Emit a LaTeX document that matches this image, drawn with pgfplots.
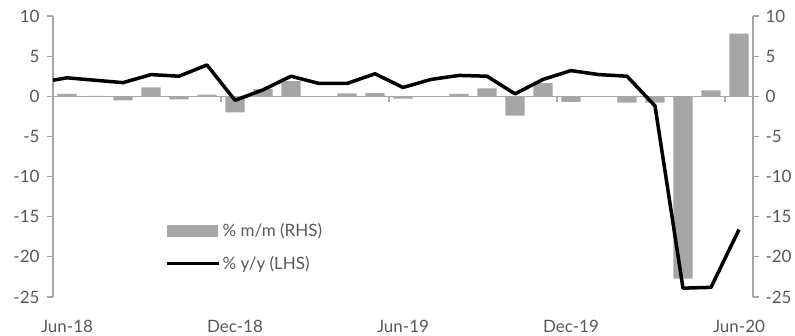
\documentclass[border=0pt]{standalone}
\usepackage{pgfplots}
\pgfplotsset{compat=1.18}
\usepackage{fontspec}
\setmainfont{Lato}
\definecolor{barcol}{HTML}{A6A6A6}
\definecolor{axcol}{HTML}{A6A6A6}
\definecolor{txtcol}{HTML}{595959}
\pgfplotstableread{
x m y
0 0.3 2.3
1 0.05 2.0
2 -0.5 1.7
3 1.1 2.7
4 -0.4 2.5
5 0.2 3.9
6 -2.0 -0.5
7 0.9 0.8
8 1.9 2.5
9 0.0 1.6
10 0.35 1.6
11 0.4 2.8
12 -0.3 1.1
13 0.0 2.1
14 0.3 2.6
15 1.0 2.5
16 -2.4 0.3
17 1.65 2.1
18 -0.7 3.2
19 0.0 2.7
20 -0.8 2.5
21 -0.8 -1.2
22 -22.7 -23.9
23 0.75 -23.8
24 7.8 -16.6
}\data
\begin{document}
\begin{tikzpicture}
\pgfplotsset{
  common/.style={
    at={(53bp,39bp)}, anchor=south west,
    width=700bp, height=281bp, scale only axis,
    xmin=-0.5, xmax=24.5, ymin=-25, ymax=10,
    ytick={-25,-20,...,10},
    tick align=outside, major tick length=6bp,
    every tick label/.append style={font=\fontsize{17bp}{20bp}\selectfont, text=txtcol},
    /pgf/number format/assume math mode=true,
    y axis line style={draw=axcol, line width=1.2bp},
    every y tick/.style={draw=axcol, line width=1.2bp},
    clip=false,
  }
}
\begin{axis}[common,
  axis y line*=right, axis x line=none,
  yticklabel style={xshift=3bp},
]
\addplot[ybar, bar width=0.68, fill=barcol, draw=none] table[x=x,y=m]{\data};
\draw[axcol, line width=1.2bp] (axis cs:-0.5,0) -- (axis cs:24.5,0);
\pgfplotsinvokeforeach{5.5,11.5,17.5,23.5}{
  \draw[axcol, line width=1.2bp] (axis cs:#1,0) -- ([yshift=-6bp]axis cs:#1,0);
}
\end{axis}
\begin{axis}[common,
  axis y line*=left, axis x line*=bottom,
  x axis line style={draw=none},
  xtick={0,6,12,18,24},
  xticklabels={Jun-18,Dec-18,Jun-19,Dec-19,Jun-20},
  major x tick style={draw=none},
  xticklabel style={yshift=-14bp},
  yticklabel style={xshift=-4bp},
  legend style={draw=none, fill=none, at={(0.16,0.27)}, anchor=north west,
    font=\fontsize{17bp}{20bp}\selectfont, text=txtcol,
    row sep=14bp, inner sep=0pt},
  legend cell align=left,
]
\addlegendimage{legend image code/.code={\fill[barcol] (0bp,-5.5bp) rectangle (50bp,5.5bp);}}
\addlegendentry{\% m/m (RHS)}
\addplot[black, line width=3.5bp, line join=round,
  legend image code/.code={\draw[black, line width=3.5bp] (0bp,0bp) -- (52bp,0bp);}]
  table[x=x,y=y]{
x y
-0.5 2.0
0 2.3
1 2.0
2 1.7
3 2.7
4 2.5
5 3.9
6 -0.5
7 0.8
8 2.5
9 1.6
10 1.6
11 2.8
12 1.1
13 2.1
14 2.6
15 2.5
16 0.3
17 2.1
18 3.2
19 2.7
20 2.5
21 -1.2
22 -23.9
23 -23.8
24 -16.6
};
\addlegendentry{\% y/y (LHS)}
\end{axis}
\pgfresetboundingbox
\path[use as bounding box] (0,0) rectangle (795bp,336bp);
\end{tikzpicture}
\end{document}
